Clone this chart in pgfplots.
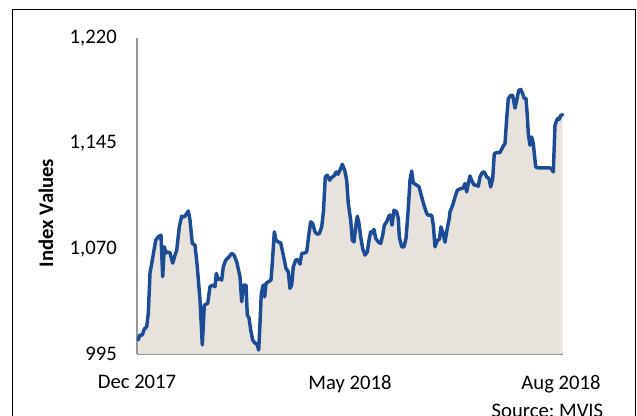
\documentclass[border=0pt]{standalone}
\usepackage{fontspec}
\setmainfont{Carlito}
\usepackage{pgfplots}
\usepackage{pgfplotstable}
\pgfplotsset{compat=1.18}

\definecolor{idxline}{RGB}{29,76,150}
\definecolor{idxfill}{RGB}{231,227,220}
\definecolor{axgray}{RGB}{150,150,150}

% x = position along the axis (0 = Dec 2017, 426 = end), y = index value
\pgfplotstableread{
x y
1.3 1005.0
2.7 1008.5
5.3 1008.5
7.3 1012.8
9.7 1014.4
11.3 1024.1
13.0 1052.6
15.3 1061.8
18.7 1076.0
21.3 1078.4
24.0 1079.6
25.7 1050.0
27.3 1071.3
29.0 1066.8
30.3 1067.7
33.0 1067.0
35.7 1059.7
38.0 1065.4
39.7 1068.9
42.3 1085.5
44.7 1093.1
47.3 1092.6
49.7 1095.0
51.3 1096.9
53.0 1090.3
55.3 1073.7
58.0 1072.5
60.3 1057.1
63.0 1033.4
65.3 1001.4
67.3 1029.8
70.7 1031.0
73.0 1042.9
75.7 1044.1
78.0 1042.9
79.3 1052.4
81.3 1048.1
83.0 1048.8
84.7 1047.6
86.3 1057.1
88.7 1061.8
92.0 1064.2
94.7 1066.6
97.0 1065.4
99.7 1060.6
103.0 1050.0
104.7 1032.2
106.3 1044.1
109.0 1044.1
110.3 1022.7
112.0 1020.6
113.7 1012.1
115.7 1005.0
118.0 1002.6
119.7 1002.6
121.7 997.8
123.0 1016.8
124.3 1038.2
126.3 1044.1
127.7 1035.7
129.0 1045.3
131.3 1046.4
134.0 1047.6
135.3 1059.5
137.3 1082.0
139.0 1076.0
141.3 1074.8
143.7 1074.1
146.3 1065.4
149.0 1055.9
151.3 1053.5
153.0 1041.7
154.7 1044.1
156.3 1057.1
159.0 1062.3
161.3 1061.8
163.0 1059.0
164.7 1066.6
168.0 1067.0
169.7 1067.7
172.0 1080.8
173.7 1089.1
175.7 1087.9
178.0 1082.0
180.3 1080.3
182.3 1080.8
184.7 1085.5
186.5 1097.0
188.3 1121.1
190.3 1122.3
192.7 1118.7
194.3 1120.6
196.7 1121.6
199.3 1124.6
201.0 1123.0
203.7 1127.0
205.3 1130.1
207.7 1125.8
209.7 1118.7
211.3 1102.1
213.7 1090.3
215.3 1076.0
217.0 1074.8
218.7 1085.5
220.3 1093.1
222.0 1087.9
223.7 1078.4
225.7 1070.1
228.0 1065.4
230.3 1067.7
232.3 1077.3
233.7 1082.0
235.3 1081.2
237.0 1083.7
238.7 1077.3
241.3 1074.8
243.7 1073.7
245.7 1079.6
247.3 1086.7
249.7 1089.1
252.3 1093.8
253.7 1093.8
255.0 1086.7
257.0 1097.4
259.7 1096.2
261.3 1091.5
262.3 1078.4
264.7 1071.3
267.0 1071.3
269.0 1077.3
271.3 1098.6
273.0 1118.7
274.7 1125.3
276.3 1116.8
279.7 1115.2
282.0 1114.0
284.7 1106.8
287.0 1100.9
289.7 1095.0
291.3 1093.8
294.7 1093.8
296.3 1086.7
298.0 1071.3
300.3 1076.0
302.3 1076.5
304.0 1085.5
305.7 1081.7
308.0 1074.6
310.3 1084.6
312.3 1091.7
313.0 1096.2
315.7 1101.0
318.0 1106.6
320.3 1111.6
323.7 1112.8
326.3 1113.2
328.0 1116.4
329.7 1110.4
331.3 1116.4
333.0 1121.8
335.3 1117.5
337.3 1115.2
339.7 1115.2
341.3 1114.4
343.0 1121.1
345.3 1124.2
347.3 1124.6
349.7 1121.1
352.0 1119.9
353.7 1113.9
355.7 1119.9
357.3 1137.7
359.7 1138.4
363.0 1138.4
364.7 1140.8
366.3 1143.1
368.0 1144.8
369.7 1162.6
371.3 1176.8
373.7 1179.1
375.7 1179.1
378.0 1170.1
379.7 1175.6
381.7 1182.7
383.7 1183.4
385.7 1180.3
387.0 1177.2
389.0 1176.8
390.3 1164.9
391.3 1151.9
393.0 1143.6
394.7 1149.5
396.3 1144.8
398.7 1128.2
401.3 1127.5
413.0 1127.5
414.7 1126.5
416.3 1124.6
418.0 1157.8
419.7 1161.4
421.3 1163.0
422.3 1162.1
423.7 1164.9
425.7 1165.4
}\indexdata

\begin{document}
\frenchspacing
\begin{tikzpicture}
% page = 637 x 416 px at 0.75pt per px
\useasboundingbox (0,0) rectangle (477.75pt,312pt);
% outer frame (bottom edge lies below the page)
\draw[black, line width=0.9pt] (9.2pt,-10pt) -- (9.2pt,305.1pt) -- (476.9pt,305.1pt) -- (476.9pt,-10pt);

\begin{axis}[
    at={(102.75pt,46.5pt)}, anchor=south west,
    scale only axis,
    width=319.5pt, height=237pt,
    xmin=0, xmax=426,
    ymin=995, ymax=1220,
    axis x line*=bottom,
    axis y line*=left,
    axis line style={draw=axgray, line width=1.2pt},
    major tick length=0pt,
    xtick={0,213,424},
    xticklabels={Dec 2017, May 2018, Aug 2018},
    ytick={995,1070,1145,1220},
    /pgf/number format/1000 sep={,},
    /pgf/number format/assume math mode=true,
    tick label style={font=\fontsize{15.5}{18}\selectfont, text=black},
    yticklabel style={anchor=east, inner sep=0pt, xshift=-15pt},
    xticklabel style={anchor=north, inner sep=0pt, yshift=-15.5pt},
    clip=false,
]
\addplot[draw=none, fill=idxfill] table[x=x, y=y] {\indexdata} \closedcycle;
\addplot[idxline, line width=2.6pt, line join=round, line cap=round] table[x=x, y=y] {\indexdata};
\end{axis}

\node[rotate=90, font=\fontsize{15.5}{18}\selectfont\bfseries] at (34.5pt,152.25pt) {Index Values};
\node[anchor=base, inner sep=0pt, font=\fontsize{15.5}{18}\selectfont] at (410.6pt,-1.2pt) {Source: MVIS};
\end{tikzpicture}
\end{document}
